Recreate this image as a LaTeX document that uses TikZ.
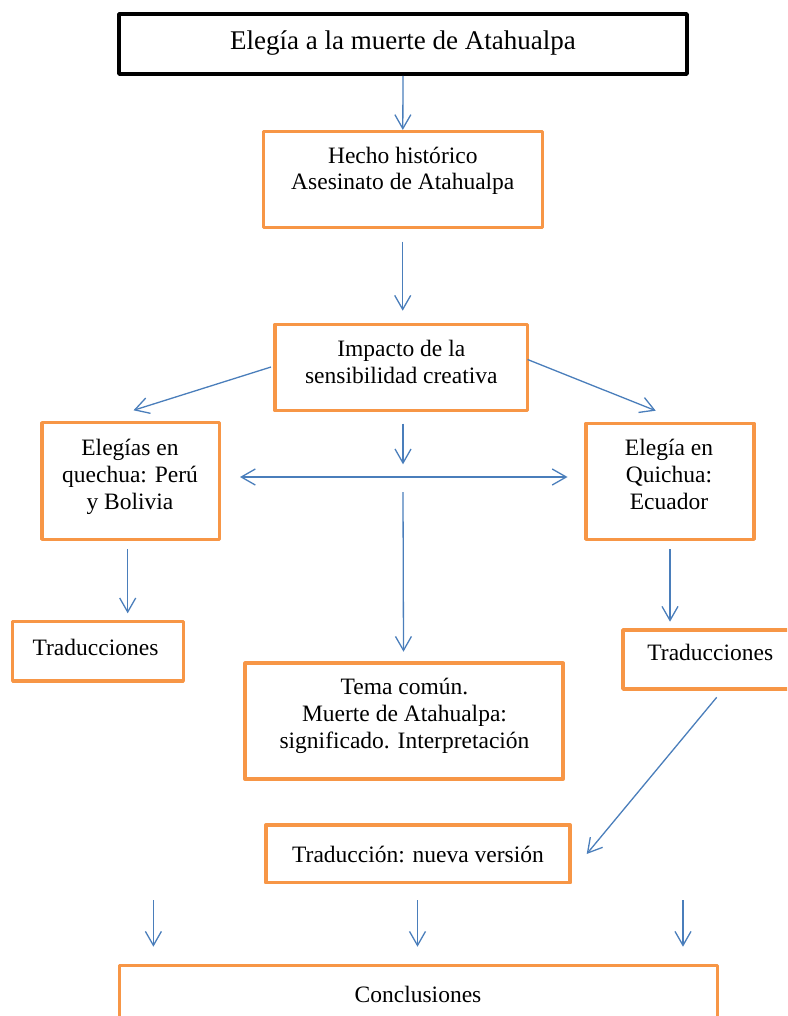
\documentclass[tikz,border=0pt]{standalone}
\usepackage{fontspec}
\setmainfont{Liberation Serif}
\usetikzlibrary{arrows.meta,positioning}
\definecolor{CajaNaranja}{HTML}{F79646}
\definecolor{FlechaAzul}{HTML}{4A7EBB}

\begin{document}
\begin{tikzpicture}[x=1pt, y=-1pt,
    every node/.style={font=\fontsize{23.5}{26.7}\selectfont, inner sep=0pt},
    caja/.style={draw=CajaNaranja, line width=3.5pt, line join=round, rectangle},
    cajanegra/.style={draw=black, line width=3.8pt, line join=round, rectangle},
    texto/.style={anchor=base, align=center},
    >={Straight Barb[length=14pt, width=16pt]},
    flecha/.style={draw=FlechaAzul, line width=1.3pt, ->}]
  \useasboundingbox (0,0) rectangle (787,1016);
  \clip (0,0) rectangle (787,1016);
  % Cajas
  \node[cajanegra, minimum width=568, minimum height=60] (titulo) at (403,44) {};
  \node[caja, minimum width=279, minimum height=95.6] (hecho) at (402.8,179.5) {};
  \node[caja, minimum width=252.3, minimum height=86.4] (impacto) at (401.2,367.5) {};
  \node[caja, minimum width=177.3, minimum height=116.6] (quechua) at (130.7,481) {};
  \node[caja, minimum width=168, minimum height=116] (quichua) at (670,481.3) {};
  \node[caja, minimum width=170.6, minimum height=59.3] (trad1) at (98,651.3) {};
  \node[caja, minimum width=175, minimum height=59] (trad2) at (710.5,659.5) {};
  \node[caja, minimum width=318, minimum height=116] (tema) at (404.1,721.2) {};
  \node[caja, minimum width=304.4, minimum height=57.7] (nueva) at (418,853.8) {};
  \node[caja, minimum width=598, minimum height=80] (concl) at (418.5,1005.5) {};
  % Textos (base = ultima linea)
  \node[texto, font=\fontsize{27}{31}\selectfont] (tituloT) at (403,50) {Elegía a la muerte de Atahualpa};
  \node[texto] (hechoT) at (402.8,190) {Hecho histórico\\Asesinato de Atahualpa};
  \node[texto] (impactoT) at (401.3,383.3) {Impacto de la\\sensibilidad creativa};
  \node[texto] (quechuaT) at (130,509.3) {Elegías en\\quechua: Perú\\y Bolivia};
  \node[texto] (quichuaT) at (669,509) {Elegía en\\Quichua:\\Ecuador};
  \node[texto] (trad1T) at (95.5,655) {Traducciones};
  \node[texto] (trad2T) at (710.3,660.7) {Traducciones};
  \node[texto] (temaT) at (404.5,748.3) {Tema común.\\Muerte de Atahualpa:\\significado. Interpretación};
  \node[texto] (nuevaT) at (418,862.7) {Traducción: nueva versión};
  \node[texto] (conclT) at (418,1002.7) {Conclusiones};
  % Extremos libres de las flechas
  \foreach \n/\x/\y in {hs/402.7/241.7, he/402.7/310.7,
      ils/271/367, ile/133.5/410.3, ids/527.5/359.5, ide/655.7/410.7,
      cs/403/423.5, ce/403/464.3, hl/240/477, hr/567.5/477,
      vs/403/492, ve/403.5/651.7,
      qs/127.7/549.3, qe/127.7/613.3, us/670/549.3, ue/670/621.7,
      ds/716.7/697.3, de/586.7/854,
      b1s/153.4/900, b1e/153.4/946.7, b2s/417.5/900, b2e/417.5/946.7,
      b3s/683/900, b3e/683/946.7}
    \coordinate (\n) at (\x,\y);
  % Flechas
  \draw[flecha] (titulo.south) -- (hecho.north);
  \foreach \a/\b in {hs/he, ils/ile, ids/ide, cs/ce, vs/ve, qs/qe, us/ue,
      ds/de, b1s/b1e, b2s/b2e, b3s/b3e}
    \draw[flecha] (\a) -- (\b);
  \draw[flecha, <->] (hl) -- (hr);
\end{tikzpicture}
\end{document}
